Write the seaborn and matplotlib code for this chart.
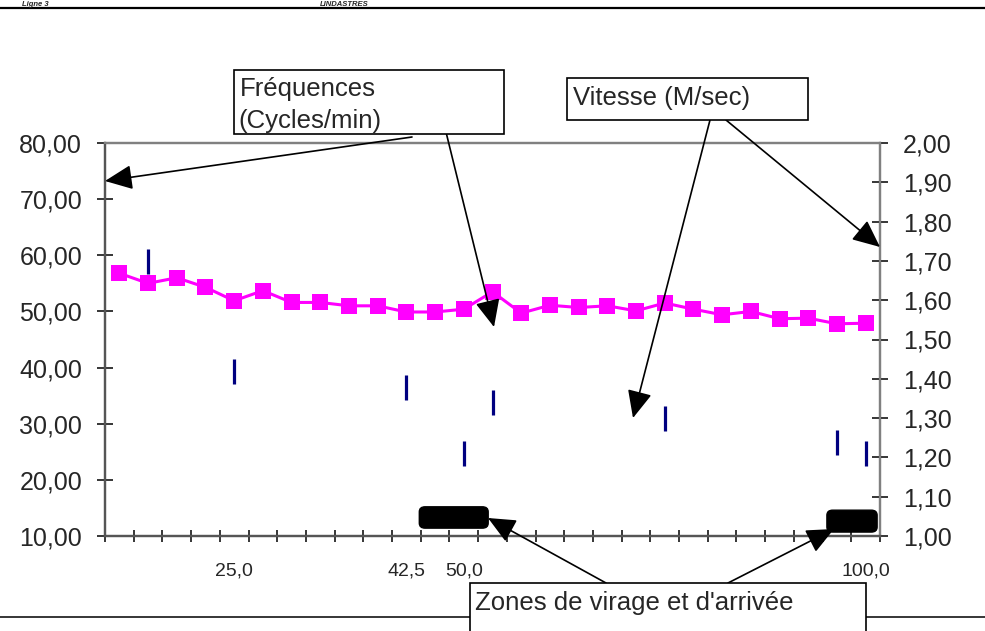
import numpy as np
import pandas as pd
import matplotlib
matplotlib.use("Agg")
import matplotlib.pyplot as plt
from matplotlib.patches import FancyArrowPatch, Rectangle, FancyBboxPatch
from matplotlib.lines import Line2D
from matplotlib.ticker import FuncFormatter, MultipleLocator
import seaborn as sns

# ---------------- data ----------------
segment = list(range(27))
frequence = [56.8, 55.0, 56.0, 54.3, 51.9, 53.7, 51.6, 51.6, 51.0, 51.0, 49.9, 49.9,
             50.4, 53.5, 49.7, 51.1, 50.7, 51.0, 50.1, 51.5, 50.4, 49.4, 50.0, 48.7,
             48.8, 47.8, 47.9]
vitesse_segment = [1, 4, 10, 12, 13, 19, 25, 26]
vitesse = [1.70, 1.42, 1.38, 1.21, 1.34, 1.30, 1.24, 1.21]
label_segment = [4, 10, 12, 26]
label_text = ["25,0", "42,5", "50,0", "100,0"]
zone_start = [10.45, 24.65]
zone_end = [12.85, 26.40]
zone_low = [11.4, 10.7]
zone_high = [15.2, 14.6]

W, H = 985, 631

sns.set_style("white")
plt.rcParams["font.family"] = ["Liberation Sans", "DejaVu Sans"]

fig = plt.figure(figsize=(W / 100, H / 100), dpi=100)
ax = fig.add_axes([105 / W, 1 - 536 / H, (880 - 105) / W, (536 - 143) / H])
ax2 = ax.twinx()

def P(x, y):
    return (x / W, 1 - y / H)

# ---------------- main series ----------------
df = pd.DataFrame({"segment": segment, "frequence": frequence})
sns.lineplot(data=df, x="segment", y="frequence", ax=ax, color="#FF00FF",
             linewidth=2.2, marker="s", markersize=11, markeredgewidth=0,
             zorder=3)

dv = pd.DataFrame({"segment": vitesse_segment, "vitesse": vitesse})
sns.scatterplot(data=dv, x="segment", y="vitesse", ax=ax2, color="#000080",
                marker="|", s=18 ** 2, linewidth=2.3, zorder=3, legend=False)

# zone boxes
for xs, xe, yl, yh in zip(zone_start, zone_end, zone_low, zone_high):
    ax.add_patch(FancyBboxPatch((xs, yl), xe - xs, yh - yl,
                                boxstyle="round,pad=0,rounding_size=0.2",
                                mutation_aspect=4.5, facecolor="black",
                                edgecolor="black", zorder=4, clip_on=False))

# ---------------- axes ----------------
ax.set_xlim(-0.5, 26.5)
ax.set_ylim(10, 80)
ax2.set_ylim(1.0, 2.0)
ax.yaxis.set_major_locator(MultipleLocator(10))
ax2.yaxis.set_major_locator(MultipleLocator(0.1))
ax.yaxis.set_major_formatter(FuncFormatter(lambda v, p: f"{v:.2f}".replace(".", ",")))
ax2.yaxis.set_major_formatter(FuncFormatter(lambda v, p: f"{v:.2f}".replace(".", ",")))

ax.set_xticks(label_segment)
ax.set_xticklabels(label_text)
ax.set_xticks(np.arange(-0.5, 27, 1), minor=True)
ax.tick_params(axis="x", which="major", length=0, pad=19, labelsize=14)
ax.tick_params(axis="x", which="minor", direction="inout", length=9, width=1.1,
               color="black", bottom=True)
ax.tick_params(axis="y", which="major", direction="inout", length=11, width=1.1,
               color="black", left=True, pad=11, labelsize=18)
ax2.tick_params(axis="y", which="major", direction="inout", length=11, width=1.1,
                color="black", right=True, pad=11, labelsize=18)
ax.set_xlabel("")
ax.set_ylabel("")
ax2.set_xlabel("")
ax2.set_ylabel("")

for a in (ax, ax2):
    for side, sp in a.spines.items():
        sp.set_visible(True)
        sp.set_linewidth(1.6)
        sp.set_color("#555555" if side in ("left", "bottom") else "#808080")
ax2.patch.set_visible(False)

# ---------------- header / footer lines ----------------
fig.add_artist(Line2D([0, 1], [1 - 7.5 / H] * 2, color="black", lw=1.6,
                      transform=fig.transFigure))
fig.add_artist(Line2D([0, 1], [1 - 617 / H] * 2, color="black", lw=1.1,
                      transform=fig.transFigure, zorder=1))
fig.text(*P(22, 6), "Ligne 3", fontsize=5.5, fontweight="bold", style="italic",
         va="baseline", ha="left")
fig.text(*P(320, 6), "LINDASTRES", fontsize=5.5, fontweight="bold", style="italic",
         va="baseline", ha="left")

# ---------------- annotation boxes ----------------
def box(x0, y0, x1, y1):
    fig.add_artist(Rectangle(P(x0, y1), (x1 - x0) / W, (y1 - y0) / H,
                             transform=fig.transFigure, facecolor="white",
                             edgecolor="black", linewidth=1.2, zorder=5))

box(234, 70, 504, 134)
fig.text(*P(240, 89), "Fréquences", fontsize=18.5, va="center", ha="left", zorder=6)
fig.text(*P(238, 121), "(Cycles/min)", fontsize=18.5, va="center", ha="left", zorder=6)
box(567, 78, 808, 120)
fig.text(*P(573, 98), "Vitesse (M/sec)", fontsize=18.5, va="center", ha="left", zorder=6)
box(470, 583, 866, 650)
fig.text(*P(475, 603), "Zones de virage et d'arrivée", fontsize=18.5, va="center",
         ha="left", zorder=6)

# ---------------- arrows ----------------
def arrow(x0, y0, x1, y1):
    fig.add_artist(FancyArrowPatch(P(x0, y0), P(x1, y1), transform=fig.transFigure,
                                   arrowstyle="-|>,head_length=1.0,head_width=0.45",
                                   mutation_scale=17, color="black", lw=1.2,
                                   shrinkA=0, shrinkB=0, zorder=4))

arrow(412, 137, 105, 181)
arrow(445, 128, 494, 327)
arrow(710, 120, 633, 418)
arrow(726, 120, 880, 247)
arrow(606, 583, 488, 518)
arrow(728, 583, 834, 529)

fig.savefig("out.png", dpi=100)
